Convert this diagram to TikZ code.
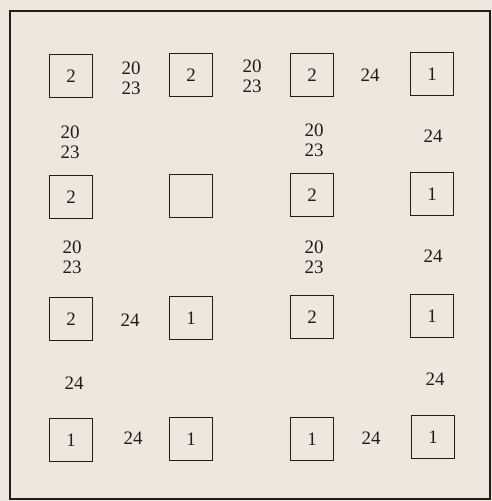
\documentclass[tikz,border=0pt]{standalone}
\usepackage{fontspec}
\setmainfont{Liberation Serif}
\definecolor{paper}{HTML}{EDE7DE}
\definecolor{ink}{HTML}{241C1B}
\begin{document}
\begin{tikzpicture}[x=1pt,y=-1pt,
  cell/.style={draw=ink,line width=1.6pt,minimum size=43pt,inner sep=0pt,text=ink,font=\fontsize{19}{20}\selectfont},
  lbl/.style={text=ink,align=center,inner sep=0pt,font=\fontsize{19}{20}\selectfont},
  frame/.style={draw=ink,line width=1.6pt}]
\fill[paper] (0,0) rectangle (492,501);
\useasboundingbox (0,0) rectangle (492,501);
\draw[frame] (10,499) -- (10,11) -- (490,11) -- (490,499) -- cycle;
% squares
\node[cell] (a1) at (71,76) {2};
\node[cell] (a2) at (191,75) {2};
\node[cell] (a3) at (312,75) {2};
\node[cell] (a4) at (432,74) {1};
\node[cell] (b1) at (71,197) {2};
\node[cell] (b2) at (191,196) {};
\node[cell] (b3) at (312,195) {2};
\node[cell] (b4) at (432,194) {1};
\node[cell] (c1) at (71,319) {2};
\node[cell] (c2) at (191,318) {1};
\node[cell] (c3) at (312,317) {2};
\node[cell] (c4) at (432,316) {1};
\node[cell] (d1) at (71,440) {1};
\node[cell] (d2) at (191,439) {1};
\node[cell] (d3) at (312,439) {1};
\node[cell] (d4) at (433,437) {1};
% labels
\node[lbl] (l1) at (131,78) {20\\23};
\node[lbl] (l2) at (252,76) {20\\23};
\node[lbl] (l3) at (370,75) {24};
\node[lbl] (l4) at (70,142) {20\\23};
\node[lbl] (l5) at (314,140) {20\\23};
\node[lbl] (l6) at (433,136) {24};
\node[lbl] (l7) at (72,257) {20\\23};
\node[lbl] (l8) at (314,257) {20\\23};
\node[lbl] (l9) at (433,256) {24};
\node[lbl] (l10) at (130,320) {24};
\node[lbl] (l11) at (74,383) {24};
\node[lbl] (l12) at (435,379) {24};
\node[lbl] (l13) at (133,438) {24};
\node[lbl] (l14) at (371,438) {24};
\end{tikzpicture}
\end{document}
